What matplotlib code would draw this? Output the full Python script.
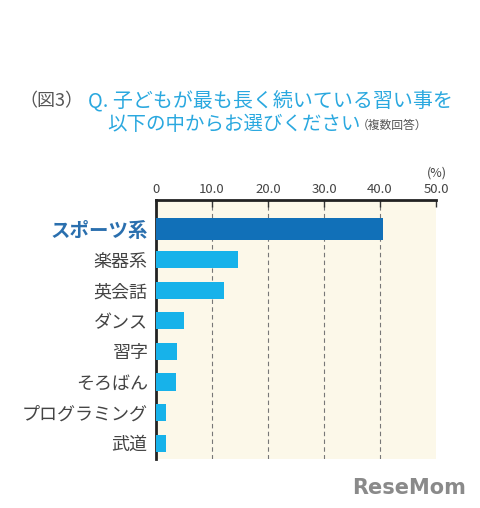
import matplotlib as mpl
mpl.use("Agg")
from matplotlib import pyplot as plt

plt.rcParams['font.family'] = ['Noto Sans CJK JP', 'DejaVu Sans']

# data
categories = ['スポーツ系', '楽器系', '英会話', 'ダンス', '習字', 'そろばん', 'プログラミング', '武道']
values     = [40.5, 14.6, 12.1, 5.0, 3.7, 3.6, 1.8, 1.8]
xticks     = [0, 10, 20, 30, 40, 50]
xticklabels = ['0', '10.0', '20.0', '30.0', '40.0', '50.0']

dark_blue  = '#1170b8'
cyan       = '#17b2ea'
title_blue = '#2aa8df'
grey_text  = '#444444'

fig = plt.figure(figsize=(4.81, 5.08), dpi=100)
ax  = fig.add_axes([156/481, 1-459/508, 280/481, 259/508])
ax.set_facecolor('#fcf8e9')

ypos    = list(range(len(categories)))
colors  = [dark_blue] + [cyan]*(len(categories)-1)
heights = [0.72] + [0.56]*(len(categories)-1)
ax.barh(ypos, values, height=heights, color=colors, zorder=3)

ax.set_xlim(0, 50)
ax.set_ylim(7.52, -0.95)

ax.xaxis.tick_top()
ax.set_xticks(xticks)
ax.set_xticklabels(xticklabels, fontsize=9.5, color=grey_text)
ax.tick_params(axis='x', direction='in', length=5, width=1, color='#333333', pad=3)
for x in xticks[1:-1]:
    ax.axvline(x, color='#777777', lw=0.8, ls=(0, (4, 3)), zorder=1)

ax.set_yticks(ypos)
ax.set_yticklabels(categories, fontsize=13, color=grey_text)
ax.tick_params(axis='y', length=0, pad=6)
lbl = ax.get_yticklabels()[0]
lbl.set_color('#2a6fae')
lbl.set_fontweight('bold')
lbl.set_fontsize(14)

for side in ['right', 'bottom']:
    ax.spines[side].set_visible(False)
for side in ['top', 'left']:
    ax.spines[side].set_color('#222222')
    ax.spines[side].set_linewidth(2)

fig.text(437/481, 1-173/508, '(%)', fontsize=9, color=grey_text, ha='center', va='center')

# title
fig.text(83/481, 1-101/508, '（図3）', fontsize=13, color='#555555', ha='right', va='center')
fig.text(88/481, 1-101/508, 'Q. 子どもが最も長く続いている習い事を', fontsize=14.4,
         color=title_blue, ha='left', va='center')
fig.text(107/481, 1-125/508, '以下の中からお選びください', fontsize=14,
         color=title_blue, ha='left', va='center')
fig.text(357/481, 1-125/508, '（複数回答）', fontsize=8.5, color='#555555', ha='left', va='center')

# logo
fig.text(466/481, 1-488/508, 'ReseMom', fontsize=15, fontweight='bold', color='#8a8a8a',
         ha='right', va='center', family='DejaVu Sans')

fig.savefig('out.png', dpi=100)
